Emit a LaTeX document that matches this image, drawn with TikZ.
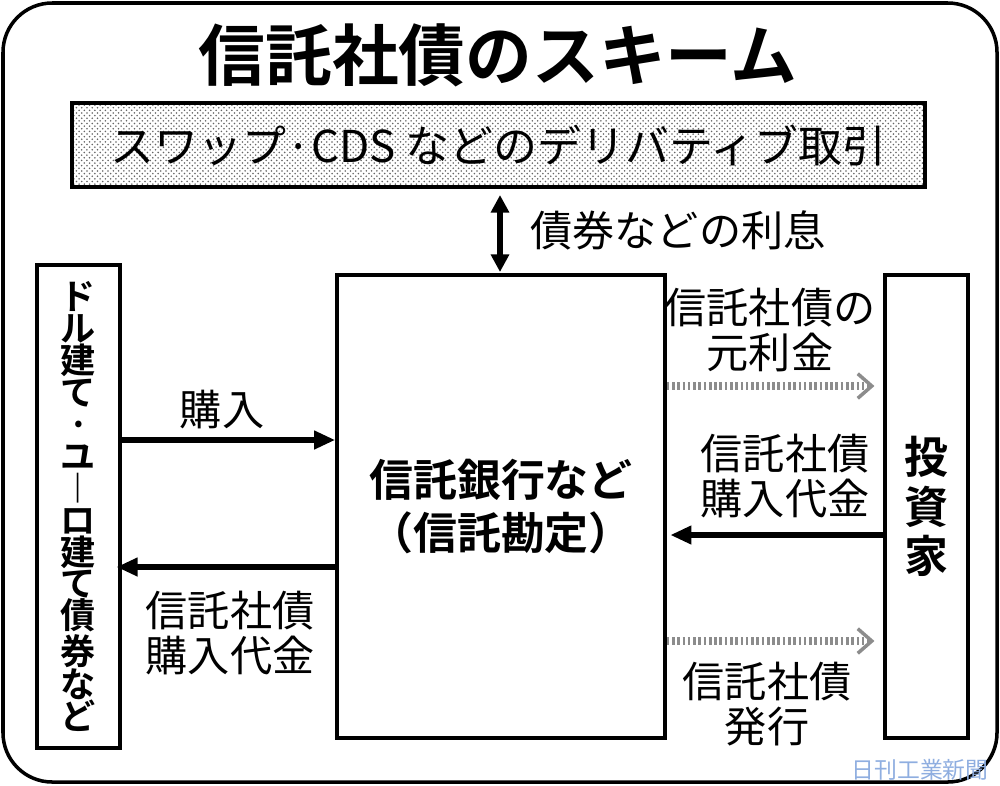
\documentclass[tikz,border=0pt]{standalone}
\usepackage{fontspec}
\setmainfont{Noto Sans CJK JP}[BoldFont={* Bold}]
\usetikzlibrary{arrows.meta,patterns}
\begin{document}
\begin{tikzpicture}[x=0.02cm,y=-0.02cm,
 box/.style={draw,line width=2pt},
 lbl/.style={font=\fontsize{24}{26}\selectfont,align=center,inner sep=0},
 arr/.style={line width=3pt,-{Triangle[length=12pt,width=10pt]}},
 darr/.style={line width=5pt,black!45,dash pattern=on 1.5pt off 1.5pt,-{Straight Barb[length=8pt,width=14pt,line width=2pt]}}]
\useasboundingbox (0,0) rectangle (1000,785);
\draw[line width=2pt,rounded corners=28] (3,3) rectangle (997,782);
\node[inner sep=0,font=\fontsize{38}{40}\selectfont\bfseries] (title) at (498,55) {信託社債のスキーム};
\node[box,pattern=crosshatch dots,pattern color=black!60,minimum width=853*0.02cm,minimum height=84*0.02cm] (deriv) at (498.5,145) {};
\node[lbl,font=\fontsize{25}{27}\selectfont] at (deriv) {スワップ·CDS などのデリバティブ取引};
\node[box,minimum width=83*0.02cm,minimum height=483*0.02cm] (left) at (78.5,506.5) {};
\node[box,minimum width=328*0.02cm,minimum height=463*0.02cm] (center) at (501,506.5) {};
\node[box,minimum width=83*0.02cm,minimum height=463*0.02cm] (right) at (926.5,506.5) {};
\node[lbl,font=\fontsize{20}{18.2}\selectfont\bfseries] at (left) {ド\\ル\\建\\て\\·\\ユ\\︱\\ロ\\建\\て\\債\\券\\な\\ど};
\node[lbl,font=\fontsize{25}{30}\selectfont\bfseries] at (center.center) {信託銀行など\\（信託勘定）};
\node[lbl,font=\fontsize{25}{28}\selectfont\bfseries] at (right) {投\\資\\家};
\coordinate (dt) at (500,195);
\coordinate (db) at (500,272);
\draw[line width=3pt,{Triangle[length=10pt,width=10pt]}-{Triangle[length=10pt,width=10pt]}] (dt) -- (db);
\node[lbl,anchor=west] at (530,230) {債券などの利息};
\draw[arr] (left.east |- 0,440) -- (center.west |- 0,440);
\node[lbl] at (222,410) {購入};
\draw[arr] (center.west |- 0,567) -- ([xshift=-3pt]left.east |- 0,567);
\node[lbl] at (230,633) {信託社債\\購入代金};
\draw[darr] (center.east |- 0,386) -- ([xshift=-5pt]right.west |- 0,386);
\node[lbl] at (770,330) {信託社債の\\元利金};
\draw[arr] (right.west |- 0,535) -- ([xshift=2pt]center.east |- 0,535);
\node[lbl] at (785,476) {信託社債\\購入代金};
\draw[darr] (center.east |- 0,641) -- ([xshift=-5pt]right.west |- 0,641);
\node[lbl] at (767,704) {信託社債\\発行};
\node[inner sep=0,font=\fontsize{13}{14}\selectfont,text=cyan!50!blue!45] at (920,770) {日刊工業新聞};
\end{tikzpicture}
\end{document}
